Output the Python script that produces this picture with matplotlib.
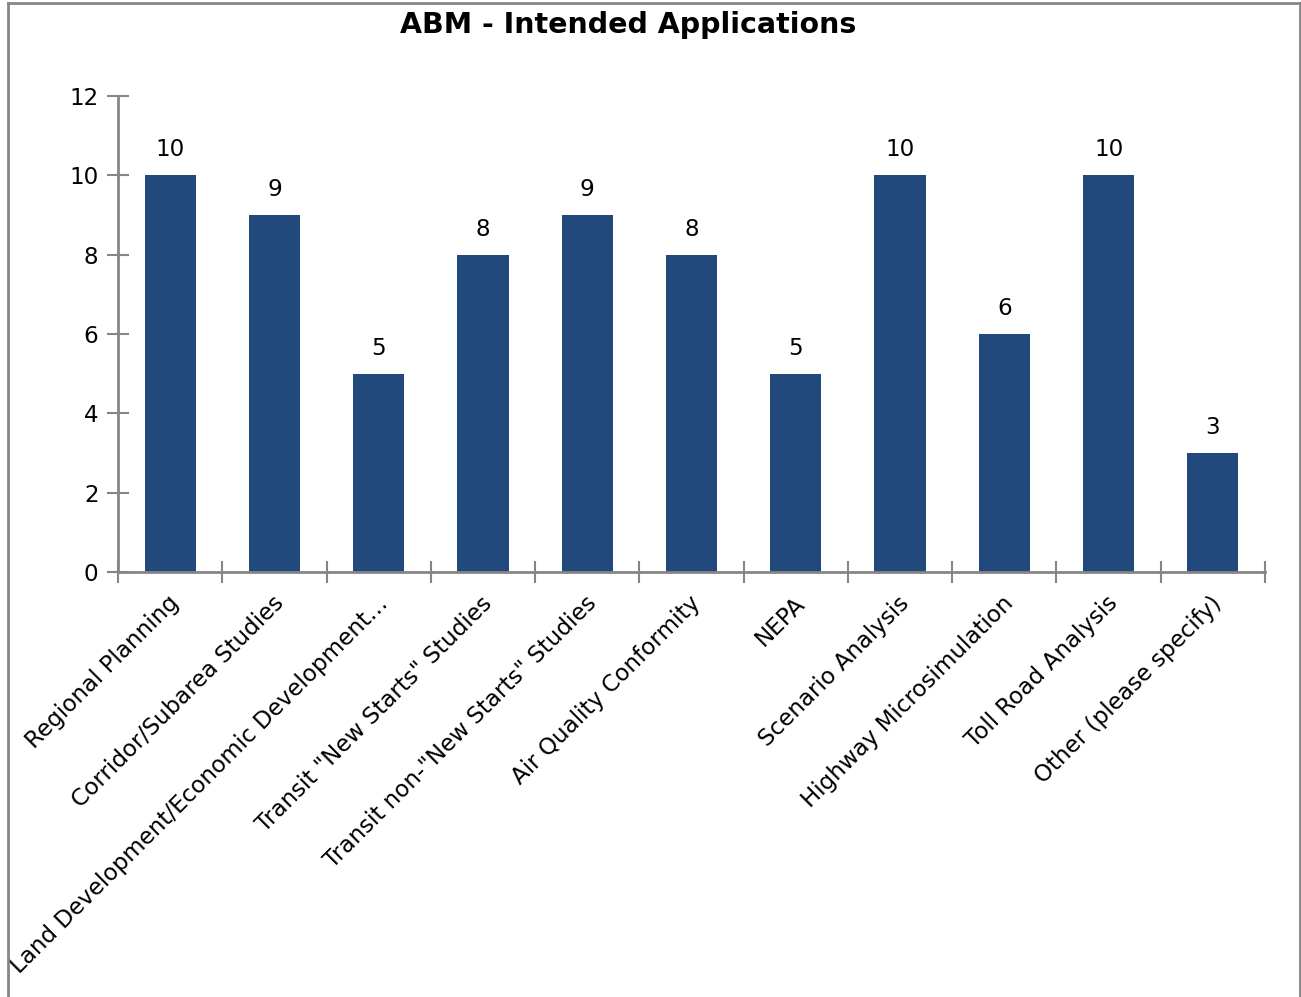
import numpy as np
import matplotlib as mpl
mpl.use('Agg')
import matplotlib.pyplot as plt
from matplotlib.lines import Line2D

plt.rcParams['font.family'] = 'DejaVu Sans'

categories = ['Regional Planning', 'Corridor/Subarea Studies',
              'Land Development/Economic Development\u2026',
              'Transit "New Starts" Studies', 'Transit non-"New Starts" Studies',
              'Air Quality Conformity', 'NEPA', 'Scenario Analysis',
              'Highway Microsimulation', 'Toll Road Analysis', 'Other (please specify)']
counts = [10, 9, 5, 8, 9, 8, 5, 10, 6, 10, 3]
yticks = [0, 2, 4, 6, 8, 10, 12]

bar_color = '#21497B'
axis_color = '#868686'
fs = 16.6

W, H = 1301, 997
fig = plt.figure(figsize=(W / 100, H / 100), dpi=100)

# outer chart border (left, top, right)
fig.add_artist(Line2D([8 / W, 8 / W], [0, 1 - 3 / H], color=axis_color, lw=2))
fig.add_artist(Line2D([8 / W, 1299.5 / W], [1 - 3 / H, 1 - 3 / H], color=axis_color, lw=2))
fig.add_artist(Line2D([1299.5 / W, 1299.5 / W], [0, 1 - 3 / H], color=axis_color, lw=2))

left, right, top, bottom = 118, 1265, 96, 572
ax = fig.add_axes([left / W, 1 - bottom / H, (right - left) / W, (bottom - top) / H])

x = np.arange(len(categories))
ax.bar(x, counts, width=0.49, color=bar_color, zorder=2)
for xi, v in zip(x, counts):
    ax.annotate(str(v), (xi, v), xytext=(0, 10), textcoords='offset points',
                ha='center', va='bottom', fontsize=fs, color='black')

ax.set_xlim(-0.5, len(categories) - 0.5)
ax.set_ylim(0, 12)
ax.set_yticks(yticks)
ax.set_yticklabels([str(t) for t in yticks], fontsize=fs)

# tick marks between categories
ax.set_xticks(np.arange(len(categories) + 1) - 0.5)
ax.set_xticklabels([])
ax.tick_params(axis='x', direction='inout', length=16, width=1.5, color=axis_color)
ax.tick_params(axis='y', direction='inout', length=16, width=1.5, color=axis_color, pad=6)

for s in ['top', 'right']:
    ax.spines[s].set_visible(False)
for s in ['left', 'bottom']:
    ax.spines[s].set_color(axis_color)
    ax.spines[s].set_linewidth(2)

# rotated category labels
for xi, lab in zip(x, categories):
    ax.annotate(lab, (xi, 0), xytext=(4, -20), textcoords='offset points',
                rotation=45, rotation_mode='anchor', ha='right', va='center',
                fontsize=fs, color='black')

fig.text(628 / W, 1 - 25 / H, 'ABM - Intended Applications', ha='center', va='center',
         fontsize=20.5, fontweight='bold')

fig.savefig('out.png', dpi=100)
